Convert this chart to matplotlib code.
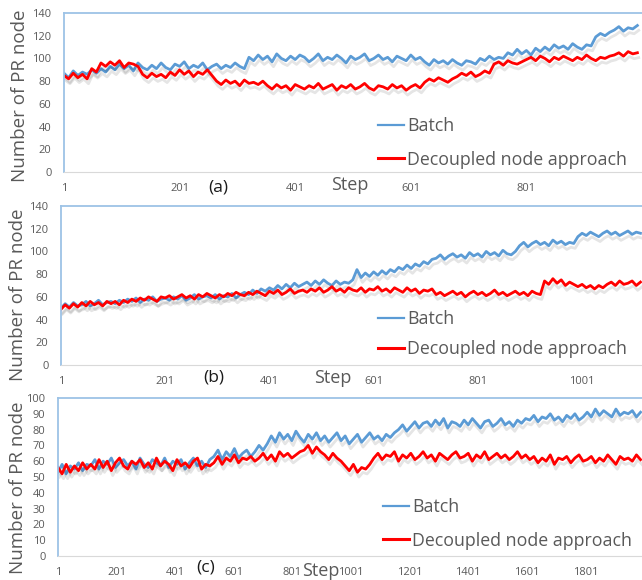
import numpy as np
import matplotlib
matplotlib.use("Agg")
import matplotlib.pyplot as plt
import matplotlib.patheffects as pe

plt.rcParams['font.family'] = ['Open Sans', 'DejaVu Sans']

#-----------------Data------------------------------------------------
# panel (a): one value every 8 steps
steps_a = np.arange(1, 1001, 8)
batch_a = [87, 83, 89, 85, 88,
           86, 90, 87, 91, 88,
           93, 90, 95, 91, 94, 89, 96, 92, 90,
           94, 91, 96, 92, 90, 95, 93, 97, 91, 94, 92, 96, 90, 93, 95, 91, 94, 92, 96, 93, 91,
           101, 98, 103, 99, 102, 97, 104, 100, 98, 102, 99, 103, 101, 97, 100, 104, 98, 101, 99,
           103, 100, 96, 102, 99, 101, 104, 98, 100, 103, 99, 101, 97, 102, 100, 98, 103, 99, 101,
           97, 94, 99, 96, 98, 95, 99, 96, 94, 98, 97, 95,
           100, 98, 102, 99, 101, 100,
           105, 103, 108, 104, 107, 103, 109, 106,
           110, 107, 112, 109, 111, 108, 113, 110, 108, 112, 111,
           119, 122, 120, 123,
           125, 128, 124, 127, 126, 129]
decoupled_a = [85, 82, 87, 83, 86, 82,
               91, 88,
               96, 93, 97, 94, 98, 92, 96, 95, 93,
               86, 83, 87, 84, 86, 83,
               88, 85, 90, 86, 89, 84, 88, 86, 90, 85,
               80, 77, 81, 78, 80, 76, 81, 78, 79, 77, 80,
               76, 73, 77, 74, 76, 72, 77, 75, 73, 76, 74, 78, 73, 75, 77, 72, 76,
               74, 77, 73, 75, 78, 74, 72, 76, 75, 73, 77, 74, 76, 72, 75, 77, 74,
               79, 82, 80, 83, 81, 79, 82,
               84, 87, 85, 88, 84, 86, 89, 87,
               95, 97, 94, 98, 96, 95, 97,
               99, 101, 98, 102, 100, 97, 101, 99, 102, 100, 98, 101, 99, 103, 100, 98, 101, 100, 102,
               103, 105, 102, 106, 104, 105]

# panel (b): one value every 8 steps
steps_b = np.arange(1, 1120, 8)
batch_b = [50, 54, 51, 55, 52, 53, 56, 52, 54, 57, 53, 55, 56,
           54, 57, 55, 58, 56, 59, 55, 58, 57, 60, 56, 58, 59,
           57, 60, 58, 61, 57, 59, 62, 58, 60, 61, 59, 62, 58, 61, 60, 63, 59, 62,
           64, 62, 66, 63, 67, 65, 68, 66, 70, 67, 71, 68, 72, 69, 71,
           73, 70, 74, 71, 75, 72, 70, 74, 71, 73, 72, 75,
           84, 77, 81, 78, 82, 79, 83, 80, 84, 82,
           86, 84, 88, 85, 89, 87, 91, 89, 93,
           94, 97, 93, 96, 98, 95, 97, 94, 99, 96, 98, 95, 100, 97, 99, 96, 101, 98, 97, 100,
           105, 108, 104, 107, 109, 106, 108, 105, 110, 107, 109, 106, 108, 107,
           113, 116, 114, 117, 115, 113, 116, 118, 115, 117, 114, 116, 118, 115, 117, 116]
decoupled_b = [49, 53, 50, 54, 51, 55, 52, 56, 53, 55, 52, 56, 54,
               56, 53, 57, 55, 58, 56, 59, 57, 60, 58, 56, 60, 59,
               61, 58, 60, 62, 59, 61, 58, 62, 60, 63, 61, 59, 62, 60, 63, 61, 64, 62,
               61, 64, 62, 65, 63, 61, 65, 63, 66, 62, 64, 67, 63, 65, 66,
               64, 67, 65, 68, 64, 66, 69, 65, 67, 64, 68, 66,
               65, 68, 64, 67, 66, 69, 65, 67, 64, 68,
               66, 64, 68, 65, 67, 63, 66, 65, 67,
               62, 64, 61, 63, 65, 62, 64, 60, 63, 65, 62, 64, 61, 63, 66, 62, 64, 61, 63, 65,
               62, 64, 61, 65, 63, 62,
               74, 71, 76, 72, 75, 70, 73, 71,
               69, 71, 68, 70, 67, 70, 68, 71,
               73, 70, 74, 71, 72, 74, 70, 73]

# panel (c): one value every 14 steps
steps_c = np.arange(1, 1990, 14)
batch_c = [53, 58, 52, 57, 55, 59, 54, 58,
           57, 61, 55, 60, 58, 62, 56, 59, 61, 57, 60, 55, 62, 58, 56,
           61, 59, 57, 62, 56, 60, 58, 61, 55, 59, 62, 57, 60, 56, 61,
           63, 67, 61, 66, 63, 68, 62, 65, 67, 63, 66,
           70, 67, 71,
           76, 72, 78, 74, 77, 73, 79, 75, 72, 77, 74, 78, 73, 76, 72, 75,
           78, 73, 76, 71, 74, 77, 72, 75, 78, 74, 76, 73, 77, 75, 78,
           80, 83, 79, 82, 85, 81, 84,
           85, 82, 86, 83, 87, 81, 85, 84, 82, 86, 83, 87, 84,
           81, 85, 86, 82, 84, 87, 83, 85, 82, 86, 84, 87,
           86, 89, 85, 88, 87, 90, 86, 88, 85, 89, 87, 90, 86, 88,
           91, 88, 93, 89, 92, 90, 88, 93, 89, 91, 90, 92, 88, 91]
decoupled_c = [56, 52, 58, 53, 57, 54, 59, 55,
               58, 55, 61, 56, 60, 54, 59, 62, 57, 55, 60, 58, 61, 56, 59,
               55, 62, 57, 60, 58, 54, 61, 57, 59, 56, 60, 62, 55, 58, 57,
               59, 63, 58, 62, 60, 64, 59, 62, 61, 63, 60,
               62, 65, 61, 64, 60, 66, 63, 65, 62, 64, 66,
               67, 70, 65, 69, 66,
               64, 61, 65, 62, 60,
               57, 54, 58, 53, 56, 55, 58,
               62, 65, 61, 64, 63, 66, 60, 64, 62, 65, 61, 63, 66, 62, 64, 60, 65, 63, 61,
               64, 66, 62, 63, 65, 60, 64, 62, 66, 61, 63, 65, 62, 64, 61, 63, 66, 62, 64,
               61, 63, 59, 62, 60, 64, 58, 62, 61, 63, 59, 62, 64, 60,
               61, 63, 59, 62, 60, 64, 61, 58, 63, 61, 62, 60, 64, 61]

tags = ['(a)', '(b)', '(c)']
x_ticks = [[1, 201, 401, 601, 801],
           [1, 201, 401, 601, 801, 1001],
           [1, 201, 401, 601, 801, 1001, 1201, 1401, 1601, 1801]]
y_max = [140, 140, 100]
y_step = [20, 20, 10]
x_max = [1001, 1116, 1994]

#---------Layout (pixels of the 642x580 picture)---------------
W, H = 642, 580
boxes = [(64, 13, 172), (61, 206, 365), (58, 398, 556)]   # left, top, bottom
tag_pos = [(218, 187), (214, 378), (206, 568)]
step_pos = [(350, 185), (333, 378), (321, 571)]
ylab_pos = [(20, 96), (18, 295), (18, 488)]
legend_pos = [(378, 143), (378, 334), (383, 524)]
leg_space = [0.85, 0.7, 0.85]

blue = '#5b9bd5'
red = '#ff0000'
gray = '#595959'
shadow = [pe.SimpleLineShadow(offset=(1, -3.5), shadow_color='k', alpha=0.1), pe.Normal()]

fig = plt.figure(figsize=(W / 100, H / 100), dpi=100)
series = [(steps_a, batch_a, decoupled_a), (steps_b, batch_b, decoupled_b), (steps_c, batch_c, decoupled_c)]

for k in range(3):
    left, top, bottom = boxes[k]
    ax = fig.add_axes([left / W, 1 - bottom / H, (W - left) / W, (bottom - top) / H])
    steps, b, d = series[k]
    ax.plot(steps, b, color=blue, lw=2.0, label='Batch', path_effects=shadow)
    ax.plot(steps, d, color=red, lw=2.0, label='Decoupled node approach', path_effects=shadow)
    ax.set_xlim(1, x_max[k])
    ax.set_ylim(0, y_max[k])
    ax.set_xticks(x_ticks[k])
    ax.set_yticks(np.arange(0, y_max[k] + 1, y_step[k]))
    ax.tick_params(length=0, labelsize=8, labelcolor=gray)
    ax.tick_params(axis='x', pad=8)
    ax.tick_params(axis='y', pad=9)
    for s in ['left', 'top']:
        ax.spines[s].set_color('#9dc3e6')
        ax.spines[s].set_linewidth(1.3)
    ax.spines['bottom'].set_color('#d9d9d9')
    ax.spines['right'].set_visible(False)

    lx, ly = legend_pos[k]
    leg = ax.legend(loc='center left', bbox_to_anchor=((lx - left) / (W - left), (bottom - ly) / (bottom - top)),
                    frameon=False, fontsize=12.8, handlelength=1.45, handletextpad=0.2,
                    labelspacing=leg_space[k], borderpad=0, borderaxespad=0)
    for t in leg.get_texts():
        t.set_color(gray)
    hl = leg.get_lines()
    for h in hl:
        h.set_path_effects([])
    hl[0].set_linewidth(1.6)
    hl[1].set_linewidth(2.2)

    tx, ty = tag_pos[k]
    fig.text(tx / W, 1 - ty / H, tags[k], ha='center', va='center', fontsize=12.5, color='#1a1a1a')
    sx, sy = step_pos[k]
    fig.text(sx / W, 1 - sy / H, 'Step', ha='center', va='center', fontsize=13, color=gray)
    yx, yy = ylab_pos[k]
    fig.text(yx / W, 1 - yy / H, 'Number of PR node', ha='center', va='center', rotation=90,
             fontsize=13.5, color=gray)

fig.savefig('out.png', dpi=100)
